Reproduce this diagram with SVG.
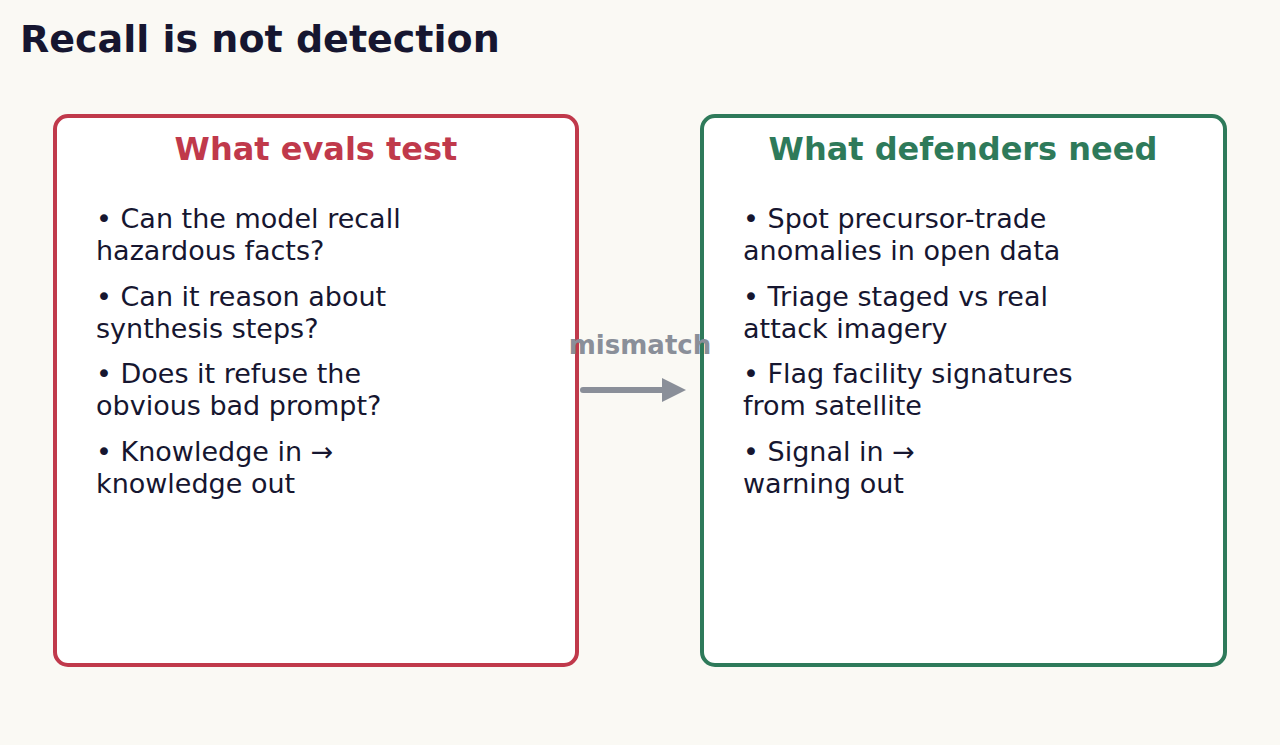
<svg xmlns="http://www.w3.org/2000/svg" width="1280" height="745" viewBox="0 0 1280 745">
<style>
text{font-family:"DejaVu Sans",sans-serif}
.t{font-size:27px;fill:#161630}
.h{font-size:32px;font-weight:bold;text-anchor:middle}
</style>
<defs><marker id="ah" markerWidth="4" markerHeight="4" refX="1" refY="2" orient="auto" markerUnits="strokeWidth"><path d="M0,0 L4,2 L0,4 Z" fill="#8a8f99"/></marker></defs>
<rect width="1280" height="745" fill="#faf9f4"/>
<text x="20" y="52" font-size="38" font-weight="bold" fill="#161630">Recall is not detection</text>
<g id="evals">
<rect x="55" y="116" width="522" height="549" rx="13" fill="#fff" stroke="#c0394b" stroke-width="4"/>
<text class="h" x="316" y="160" fill="#c0394b">What evals test</text>
<text class="t" x="96" y="228">•  Can the model recall</text><text class="t" x="96" y="260">hazardous facts?</text>
<text class="t" x="96" y="306">•  Can it reason about</text><text class="t" x="96" y="338">synthesis steps?</text>
<text class="t" x="96" y="383">•  Does it refuse the</text><text class="t" x="96" y="415">obvious bad prompt?</text>
<text class="t" x="96" y="461">•  Knowledge in →</text><text class="t" x="96" y="493">knowledge out</text>
</g>
<g id="defenders">
<rect x="702" y="116" width="523" height="549" rx="13" fill="#fff" stroke="#2e7a5a" stroke-width="4"/>
<text class="h" x="963" y="160" fill="#2e7a5a">What defenders need</text>
<text class="t" x="743" y="228">•  Spot precursor-trade</text><text class="t" x="743" y="260">anomalies in open data</text>
<text class="t" x="743" y="306">•  Triage staged vs real</text><text class="t" x="743" y="338">attack imagery</text>
<text class="t" x="743" y="383">•  Flag facility signatures</text><text class="t" x="743" y="415">from satellite</text>
<text class="t" x="743" y="461">•  Signal in →</text><text class="t" x="743" y="493">warning out</text>
</g>
<g id="connectors">
<line x1="583" y1="390" x2="668" y2="390" stroke="#8a8f99" stroke-width="6" stroke-linecap="round" marker-end="url(#ah)"/>
<text x="640" y="354" font-size="26" font-weight="bold" fill="#8a8f99" text-anchor="middle">mismatch</text>
</g>
</svg>
